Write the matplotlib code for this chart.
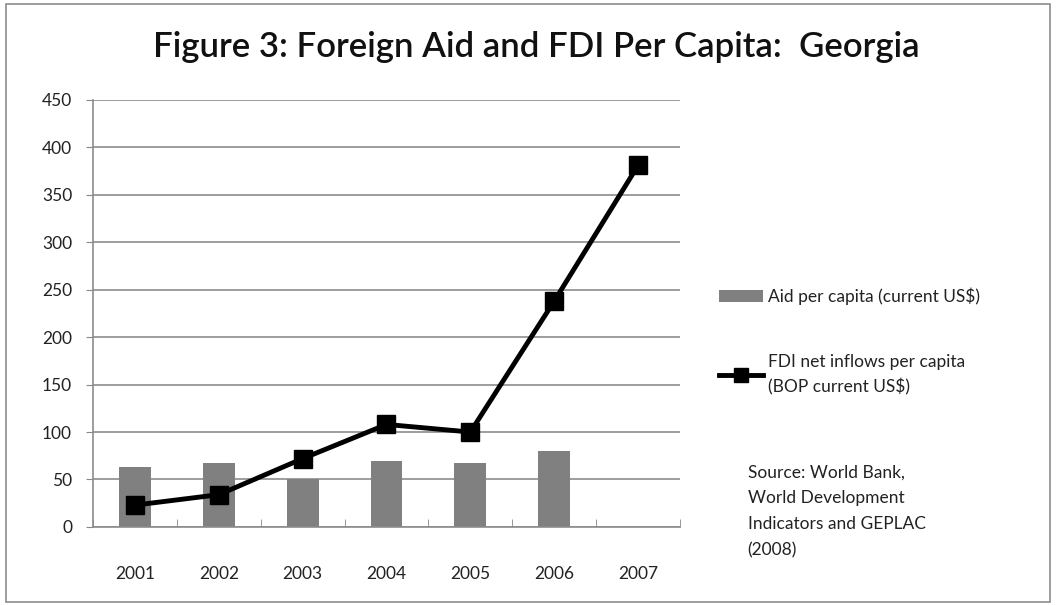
import numpy as np
import matplotlib
matplotlib.use('Agg')
from matplotlib import pyplot as plt
from matplotlib.patches import Rectangle

years = ['2001', '2002', '2003', '2004', '2005', '2006', '2007']
aid_per_capita = [63, 67, 50, 69, 67, 80, np.nan]
fdi_per_capita = [23, 34, 72, 108, 100, 238, 381]
y_ticks = [0, 50, 100, 150, 200, 250, 300, 350, 400, 450]

plt.rcParams['font.family'] = ['Lato', 'DejaVu Sans']

fig = plt.figure(figsize=(10.56, 6.05), dpi=100)
# outer chart border
fig.patches.append(Rectangle((0.006, 0.005), 0.988, 0.988, transform=fig.transFigure,
                             fill=False, edgecolor='#8c8c8c', linewidth=1.2))

ax = fig.add_axes([0.088, 0.129, 0.556, 0.706])
x = np.arange(len(years))

bars = ax.bar(x, aid_per_capita, width=0.38, color='#808080', zorder=2,
              label='Aid per capita (current US$)')
line, = ax.plot(x, fdi_per_capita, color='black', linewidth=3.5, marker='s', markersize=13,
                zorder=3, label='FDI net inflows per capita\n(BOP current US$)')

ax.set_xlim(-0.5, len(years) - 0.5)
ax.set_ylim(0, 450)
ax.set_yticks(y_ticks)
ax.set_xticks(x)
ax.set_xticklabels(years)
ax.set_xticks(np.arange(-0.5, len(years)), minor=True)
ax.tick_params(axis='x', which='major', length=0, pad=28, labelsize=12.5, colors='#222222')
ax.tick_params(axis='x', which='minor', length=6, direction='in', color='#888888')
ax.tick_params(axis='y', length=5, color='#888888', pad=10, labelsize=12.5, colors='#222222')
ax.yaxis.grid(True, color='#8c8c8c', linewidth=1.2, zorder=0)
ax.set_axisbelow(True)
for s in ['top', 'right']:
    ax.spines[s].set_visible(False)
for s in ['left', 'bottom']:
    ax.spines[s].set_color('#8c8c8c')
    ax.spines[s].set_linewidth(1.2)

fig.text(0.508, 0.922, 'Figure 3: Foreign Aid and FDI Per Capita:  Georgia',
         ha='center', va='center', fontsize=25, weight='semibold', color='#111111')

leg = ax.legend(handles=[bars, line], loc='upper left', bbox_to_anchor=(1.04, 0.597), frameon=False,
                fontsize=12.5, labelspacing=2.8, handlelength=2.5, handletextpad=0.3)
for t in leg.get_texts():
    t.set_linespacing(1.6)
    t.set_color('#222222')
leg.legend_handles[1].set_markersize(10)

fig.text(0.708, 0.155, 'Source: World Bank,\nWorld Development\nIndicators and GEPLAC\n(2008)',
         ha='left', va='center', fontsize=12.5, linespacing=1.75, color='#222222')

plt.savefig('out.png', dpi=100)
